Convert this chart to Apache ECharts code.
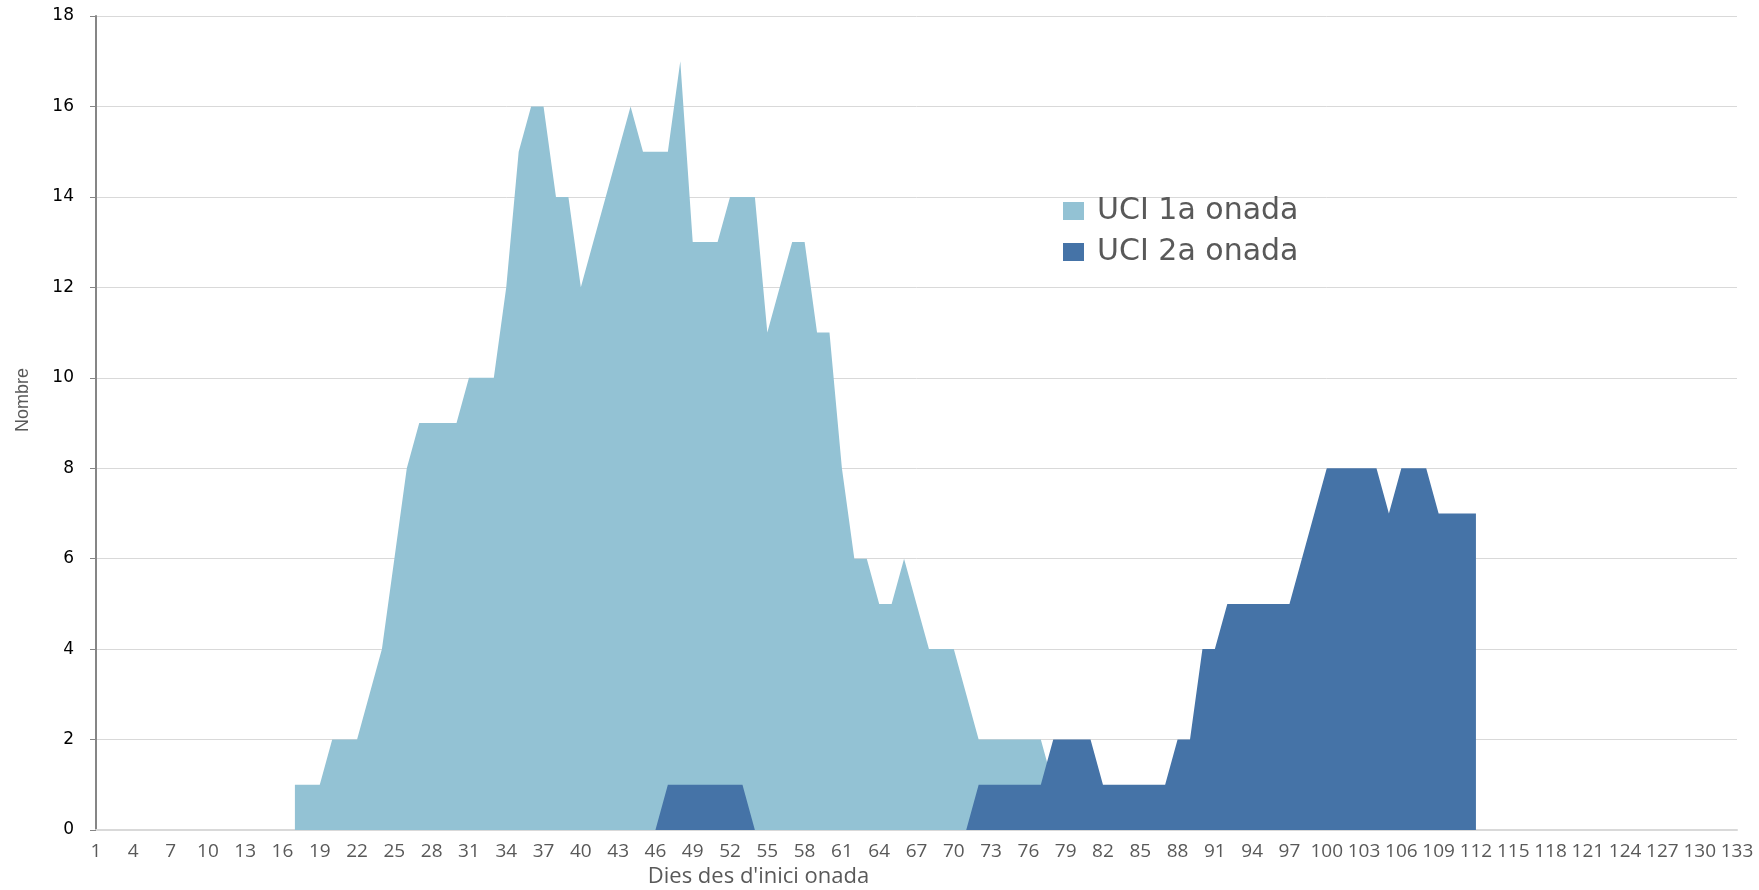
<!DOCTYPE html>
<html>
<head>
<meta charset="utf-8">
<script src="https://cdn.jsdelivr.net/npm/echarts@6/dist/echarts.min.js"></script>
<style>
  html, body { margin: 0; padding: 0; background: #fff; }
  #chart { width: 1759px; height: 890px; }
</style>
</head>
<body>
<div id="chart"></div>
<script>
// dies 1..133 des de l'inici de l'onada
var dies = [];
for (var d = 1; d <= 133; d++) dies.push(String(d));

// UCI 1a onada (index 0 = dia 1)
var uci1 = [
    null, null, null, null, null, null, null, null, null, null,   // 1-10
    null, null, null, null, null, null, 1, 1, 1, 2,               // 11-20
    2, 2, 3, 4, 6, 8, 9, 9, 9, 9,                                 // 21-30
    10, 10, 10, 12, 15, 16, 16, 14, 14, 12,                       // 31-40
    13, 14, 15, 16, 15, 15, 15, 17, 13, 13,                       // 41-50
    13, 14, 14, 14, 11, 12, 13, 13, 11, 11,                       // 51-60
    8, 6, 6, 5, 5, 6, 5, 4, 4, 4,                                 // 61-70
    3, 2, 2, 2, 2, 2, 2, 1, null, null,                           // 71-80
    null, null, null, null, null, null, null, null, null, null,   // 81-90
    null, null, null, null, null, null, null, null, null, null,   // 91-100
    null, null, null, null, null, null, null, null, null, null,   // 101-110
    null, null, null, null, null, null, null, null, null, null,   // 111-120
    null, null, null, null, null, null, null, null, null, null,   // 121-130
    null, null, null                                              // 131-133
];

// UCI 2a onada
var uci2 = [
    null, null, null, null, null, null, null, null, null, null,   // 1-10
    null, null, null, null, null, null, null, null, null, null,   // 11-20
    null, null, null, null, null, null, null, null, null, null,   // 21-30
    null, null, null, null, null, null, null, null, null, null,   // 31-40
    null, null, null, null, null, 0, 1, 1, 1, 1,                  // 41-50
    1, 1, 1, 0, 0, 0, 0, 0, 0, 0,                                 // 51-60
    0, 0, 0, 0, 0, 0, 0, 0, 0, 0,                                 // 61-70
    0, 1, 1, 1, 1, 1, 1, 2, 2, 2,                                 // 71-80
    2, 1, 1, 1, 1, 1, 1, 2, 2, 4,                                 // 81-90
    4, 5, 5, 5, 5, 5, 5, 6, 7, 8,                                 // 91-100
    8, 8, 8, 8, 7, 8, 8, 8, 7, 7,                                 // 101-110
    7, 7, null, null, null, null, null, null, null, null,         // 111-120
    null, null, null, null, null, null, null, null, null, null,   // 121-130
    null, null, null                                              // 131-133
];

var noms = ['UCI 1a onada', 'UCI 2a onada'];
var colors = ['#93c2d4', '#4573a7'];

var chart = echarts.init(document.getElementById('chart'));
var option = {
    animation: false,
    backgroundColor: '#fff',
    color: colors,
    grid: {
        left: 96,
        right: 22,
        top: 16,
        bottom: 60,
        outerBoundsMode: 'none'
    },
    legend: {
        orient: 'vertical',
        left: 1063,
        top: 196,
        padding: 0,
        icon: 'rect',
        itemWidth: 21,
        itemHeight: 18,
        itemGap: 11,
        data: noms,
        textStyle: {
            fontFamily: 'DejaVu Sans',
            fontSize: 30,
            color: '#595959',
            padding: [0, 0, 0, 8]
        }
    },
    xAxis: {
        type: 'category',
        boundaryGap: false,
        data: dies,
        name: "Dies des d'inici onada",
        nameLocation: 'middle',
        nameGap: 36,
        nameTextStyle: {
            fontFamily: 'Open Sans',
            fontSize: 22,
            color: '#595959',
            padding: [0, 316, 0, 0]
        },
        axisLine: {
            lineStyle: { color: '#d9d9d9', width: 2 }
        },
        axisTick: { show: false },
        axisLabel: {
            interval: 2,
            margin: 12,
            fontFamily: 'Open Sans',
            fontSize: 19,
            color: '#595959'
        },
        splitLine: { show: false }
    },
    yAxis: {
        type: 'value',
        min: 0,
        max: 18,
        interval: 2,
        name: 'Nombre',
        nameLocation: 'middle',
        nameRotate: 90,
        nameGap: 64,
        nameTextStyle: {
            fontFamily: 'Liberation Sans',
            fontSize: 18,
            color: '#595959',
            padding: [0, 0, 0, 46]
        },
        axisLine: {
            show: true,
            lineStyle: { color: '#868686', width: 2 }
        },
        axisTick: {
            show: true,
            length: 6,
            lineStyle: { color: '#868686' }
        },
        axisLabel: {
            margin: 22,
            fontFamily: 'DejaVu Sans',
            fontSize: 17,
            color: '#000'
        },
        splitLine: {
            lineStyle: { color: '#d9d9d9', width: 1 }
        }
    },
    series: [
        {
            name: noms[0],
            type: 'line',
            data: uci1,
            showSymbol: false,
            lineStyle: { width: 0 },
            itemStyle: { color: colors[0] },
            areaStyle: { color: colors[0], opacity: 1 }
        },
        {
            name: noms[1],
            type: 'line',
            data: uci2,
            showSymbol: false,
            lineStyle: { width: 0 },
            itemStyle: { color: colors[1] },
            areaStyle: { color: colors[1], opacity: 1 }
        }
    ]
};
chart.setOption(option);
</script>
</body>
</html>
